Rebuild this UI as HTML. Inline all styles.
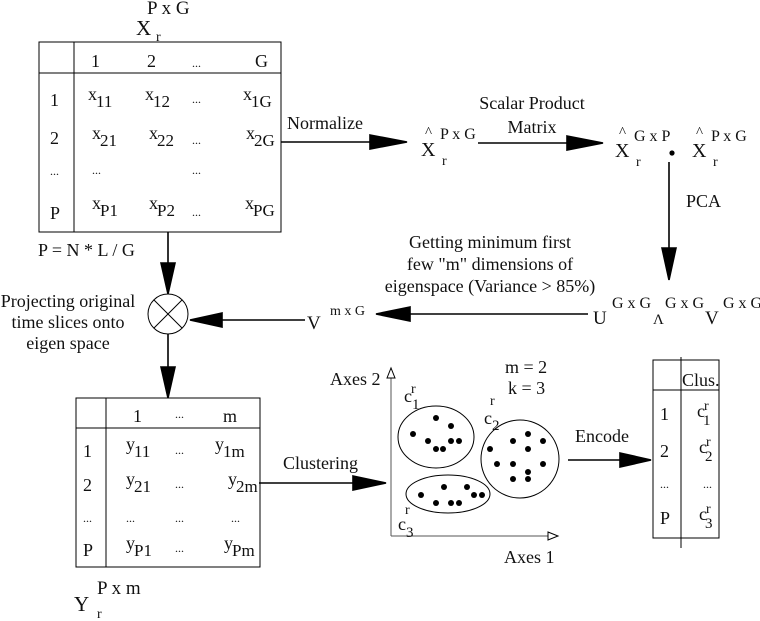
<!DOCTYPE html>
<html><head><meta charset="utf-8"><style>
html,body{margin:0;padding:0;background:#fff;}
svg{display:block;}
text{font-family:"Liberation Serif",serif;fill:#111;}
</style></head><body>
<svg width="760" height="621" viewBox="0 0 760 621" xmlns="http://www.w3.org/2000/svg">
<g stroke="#000" stroke-width="1.6" fill="none">
<line x1="281" y1="142" x2="370" y2="142"/><path d="M370,135 L407,142 L370,149 z" fill="#000"/>
<line x1="478" y1="143" x2="567" y2="143"/><path d="M567,136 L603,143 L567,150 z" fill="#000"/>
<line x1="669" y1="162" x2="669" y2="248"/><path d="M662,248 L669,280 L676,248 z" fill="#000"/>
<line x1="588" y1="314" x2="410" y2="314"/><path d="M410,307 L376,314 L410,321 z" fill="#000"/>
<line x1="168" y1="232" x2="168" y2="263"/><path d="M161,263 L168,294 L175,263 z" fill="#000"/>
<line x1="305" y1="320" x2="222" y2="320"/><path d="M222,313 L190,320 L222,327 z" fill="#000"/>
<line x1="168" y1="334" x2="168" y2="367"/><path d="M161,367 L168,398 L175,367 z" fill="#000"/>
<line x1="259" y1="483" x2="353" y2="483"/><path d="M353,476 L386,483 L353,490 z" fill="#000"/>
<line x1="568" y1="460" x2="620" y2="460"/><path d="M620,453 L651,460 L620,467 z" fill="#000"/>
</g>
<g stroke="#000" stroke-width="1" fill="none">
<rect x="39" y="42" width="242" height="190"/>
<line x1="39" y1="73" x2="281" y2="73"/><line x1="74" y1="42" x2="74" y2="232"/>
<circle cx="168" cy="314" r="20"/>
<line x1="154" y1="300" x2="182" y2="328"/><line x1="182" y1="300" x2="154" y2="328"/>
<rect x="76" y="398" width="184" height="169"/>
<line x1="76" y1="428" x2="260" y2="428"/><line x1="106" y1="398" x2="106" y2="567"/>
<rect x="653" y="360" width="66" height="178"/>
<line x1="653" y1="390" x2="719" y2="390"/><line x1="681" y1="357" x2="681" y2="548"/>
<line x1="391" y1="536" x2="391" y2="378" stroke="#555"/>
<path d="M387,378 L391,368 L395,378 z"/>
<line x1="391" y1="536" x2="548" y2="536" stroke="#555"/>
<path d="M548,532 L558,536 L548,540 z"/>
<ellipse cx="436" cy="437" rx="38" ry="31"/>
<circle cx="520" cy="459" r="39"/>
<ellipse cx="448" cy="494" rx="42" ry="19"/>
</g>
<g fill="#000">
<circle cx="436" cy="418" r="3"/><circle cx="451" cy="426" r="3"/><circle cx="413" cy="434" r="3"/><circle cx="428" cy="441" r="3"/><circle cx="451" cy="441" r="3"/><circle cx="459" cy="441" r="3"/><circle cx="436" cy="449" r="3"/><circle cx="443" cy="449" r="3"/>
<circle cx="528" cy="434" r="3"/><circle cx="513" cy="441" r="3"/><circle cx="543" cy="441" r="3"/><circle cx="490" cy="449" r="3"/><circle cx="528" cy="449" r="3"/><circle cx="497" cy="464" r="3"/><circle cx="513" cy="464" r="3"/><circle cx="543" cy="464" r="3"/><circle cx="528" cy="472" r="3"/><circle cx="513" cy="479" r="3"/><circle cx="528" cy="479" r="3"/>
<circle cx="444" cy="487" r="3"/><circle cx="467" cy="487" r="3"/><circle cx="421" cy="495" r="3"/><circle cx="474" cy="495" r="3"/><circle cx="482" cy="495" r="3"/><circle cx="436" cy="503" r="3"/><circle cx="451" cy="503" r="3"/><circle cx="459" cy="503" r="3"/>
<circle cx="672" cy="153" r="2.6"/>
</g>
<g font-size="18">
<text x="136" y="35" font-size="21">X</text><text x="147" y="14" font-size="19">P x G</text><text x="156" y="41" font-size="14">r</text>
<text x="91" y="67">1</text><text x="147" y="67">2</text><text x="192" y="67" font-size="12">...</text><text x="255" y="67">G</text>
<text x="50" y="106">1</text><text x="50" y="144">2</text><text x="50" y="175" font-size="12">...</text><text x="50" y="219">P</text>
<text x="88" y="100">x</text><text x="96" y="107" font-size="17">11</text>
<text x="145" y="100">x</text><text x="153" y="107" font-size="17">12</text>
<text x="192" y="103" font-size="12">...</text>
<text x="243" y="100">x</text><text x="251" y="107" font-size="17">1G</text>
<text x="92" y="139">x</text><text x="100" y="146" font-size="17">21</text>
<text x="149" y="139">x</text><text x="157" y="146" font-size="17">22</text>
<text x="192" y="144" font-size="12">...</text>
<text x="246" y="139">x</text><text x="254" y="146" font-size="17">2G</text>
<text x="92" y="174" font-size="12">...</text><text x="192" y="174" font-size="12">...</text>
<text x="92" y="209">x</text><text x="100" y="216" font-size="17">P1</text>
<text x="149" y="209">x</text><text x="157" y="216" font-size="17">P2</text>
<text x="192" y="216" font-size="12">...</text>
<text x="245" y="209">x</text><text x="253" y="216" font-size="17">PG</text>
<text x="38" y="256">P = N * L / G</text>
<text x="287" y="129">Normalize</text>
<text x="425" y="137" font-size="15">^</text><text x="421" y="156" font-size="20">X</text><text x="440" y="139" font-size="16">P x G</text><text x="442" y="165" font-size="14">r</text>
<text x="532" y="109" text-anchor="middle">Scalar Product</text><text x="532" y="133" text-anchor="middle">Matrix</text>
<text x="619" y="137" font-size="15">^</text><text x="615" y="157" font-size="20">X</text><text x="634" y="141" font-size="16">G x P</text><text x="636" y="166" font-size="14">r</text>
<text x="696" y="137" font-size="15">^</text><text x="692" y="157" font-size="20">X</text><text x="711" y="141" font-size="16">P x G</text><text x="713" y="166" font-size="14">r</text>
<text x="686" y="207">PCA</text>
<text x="490" y="248" text-anchor="middle">Getting minimum first</text>
<text x="490" y="270" text-anchor="middle">few "m" dimensions of</text>
<text x="490" y="292" text-anchor="middle">eigenspace (Variance &gt; 85%)</text>
<text x="593" y="324" font-size="19">U</text><text x="612" y="308" font-size="16">G x G</text>
<text x="653" y="324" font-size="15">&#923;</text><text x="665" y="308" font-size="16">G x G</text>
<text x="705" y="324" font-size="19">V</text><text x="723" y="308" font-size="16">G x G</text>
<text x="307" y="329" font-size="19">V</text><text x="330" y="315" font-size="14">m x G</text>
<text x="68" y="307" text-anchor="middle">Projecting original</text>
<text x="68" y="328" text-anchor="middle">time slices onto</text>
<text x="68" y="349" text-anchor="middle">eigen space</text>
<text x="133" y="422">1</text><text x="175" y="418" font-size="12">...</text><text x="223" y="422">m</text>
<text x="83" y="457">1</text><text x="83" y="491">2</text><text x="83" y="522" font-size="12">...</text><text x="83" y="556">P</text>
<text x="126" y="450">y</text><text x="134" y="457" font-size="17">11</text><text x="175" y="454" font-size="12">...</text><text x="215" y="450">y</text><text x="223" y="457" font-size="17">1m</text>
<text x="126" y="485">y</text><text x="134" y="492" font-size="17">21</text><text x="175" y="488" font-size="12">...</text><text x="228" y="485">y</text><text x="236" y="492" font-size="17">2m</text>
<text x="126" y="522" font-size="12">...</text><text x="175" y="522" font-size="12">...</text><text x="231" y="522" font-size="12">...</text>
<text x="126" y="549">y</text><text x="134" y="556" font-size="17">P1</text><text x="175" y="552" font-size="12">...</text><text x="224" y="549">y</text><text x="232" y="556" font-size="17">Pm</text>
<text x="74" y="611" font-size="21">Y</text><text x="97" y="594" font-size="19">P x m</text><text x="97" y="618" font-size="14">r</text>
<text x="283" y="469">Clustering</text>
<text x="330" y="385">Axes 2</text>
<text x="505" y="373">m = 2</text><text x="508" y="394">k = 3</text>
<text x="404" y="402">c</text><text x="411" y="393" font-size="14">r</text><text x="412" y="409" font-size="15">1</text>
<text x="484" y="424">c</text><text x="490" y="405" font-size="14">r</text><text x="492" y="430" font-size="15">2</text>
<text x="398" y="530">c</text><text x="405" y="514" font-size="14">r</text><text x="406" y="537" font-size="15">3</text>
<text x="504" y="563">Axes 1</text>
<text x="575" y="442">Encode</text>
<text x="682" y="386">Clus.</text>
<text x="660" y="420">1</text><text x="660" y="457">2</text><text x="660" y="488" font-size="12">...</text><text x="660" y="524">P</text>
<text x="697" y="417">c</text><text x="704" y="410" font-size="14">r</text><text x="703" y="425" font-size="15">1</text>
<text x="699" y="453">c</text><text x="706" y="446" font-size="14">r</text><text x="705" y="461" font-size="15">2</text>
<text x="703" y="488" font-size="12">...</text>
<text x="699" y="520">c</text><text x="706" y="513" font-size="14">r</text><text x="705" y="528" font-size="15">3</text>
</g>
</svg>
</body></html>
